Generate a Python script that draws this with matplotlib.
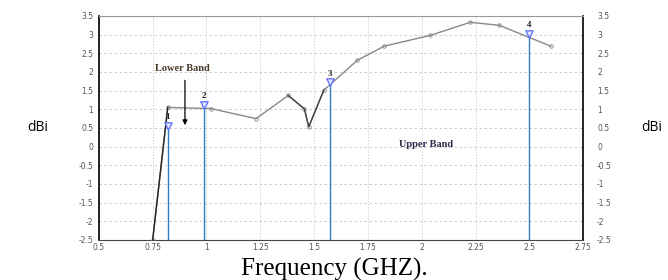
import numpy as np
import matplotlib
matplotlib.use('Agg')
import matplotlib.pyplot as plt

# gain curve (GHz, dBi)
freq = [0.75, 0.82, 1.02, 1.23, 1.38, 1.455, 1.475, 1.545, 1.70, 1.825, 2.04, 2.225, 2.36, 2.60]
gain = [-2.5, 1.05, 1.02, 0.75, 1.37, 1.01, 0.53, 1.51, 2.31, 2.69, 2.98, 3.33, 3.25, 2.69]

# markers
mk_x = [0.82, 0.99, 1.575, 2.5]
mk_y = [0.55, 1.12, 1.72, 3.03]
mk_lab = ['1', '2', '3', '4']

xticks = [0.5, 0.75, 1, 1.25, 1.5, 1.75, 2, 2.25, 2.5, 2.75]
xticklabels = ['0.5', '0.75', '1', '1.25', '1.5', '1.75', '2', '2.25', '2.5', '2.75']
yticks = [-2.5, -2, -1.5, -1, -0.5, 0, 0.5, 1, 1.5, 2, 2.5, 3, 3.5]
yticklabels = ['-2.5', '-2', '-1.5', '-1', '-0.5', '0', '0.5', '1', '1.5', '2', '2.5', '3', '3.5']

fig = plt.figure(figsize=(6.68, 2.8), dpi=100)
ax = fig.add_axes([0.148, 0.143, 0.725, 0.8])

ax.set_xlim(0.5, 2.75)
ax.set_ylim(-2.5, 3.5)
ax.set_xticks(xticks)
ax.set_xticklabels(xticklabels)
ax.set_yticks(yticks)
ax.set_yticklabels(yticklabels)
ax.tick_params(length=0, labelsize=5.5, colors='#555555', pad=4)
ax.tick_params(axis='x', pad=2)
ax.xaxis.grid(True, color='#c4c4c4', linestyle=(0, (1.5, 2)), lw=0.6)
ax.yaxis.grid(True, color='#c4c4c4', linestyle=(0, (3, 3)), lw=0.6)

for s in ['left', 'right']:
    ax.spines[s].set_color('black')
    ax.spines[s].set_linewidth(1.2)
ax.spines['top'].set_color('#999999')
ax.spines['bottom'].set_color('#444444')

ax2 = ax.twinx()
ax2.set_ylim(-2.5, 3.5)
ax2.set_yticks(yticks)
ax2.set_yticklabels(yticklabels)
ax2.tick_params(length=0, labelsize=5.5, colors='#555555', pad=10)
for s in ax2.spines.values():
    s.set_visible(False)

# blue marker lines
for x, y in zip(mk_x, mk_y):
    ax.plot([x, x], [-2.5, y], color='#2b7fcb', lw=1.0, zorder=2)

ax.plot(freq, gain, color='#888888', lw=1.0, marker='o', ms=2.5,
        mfc='none', mec='#888888', mew=0.6, zorder=3)
ax.plot(freq[:2], gain[:2], color='#222222', lw=1.0, zorder=3)
ax.plot(freq[4:8], gain[4:8], color='#444444', lw=1.0, zorder=3)

ax.scatter(mk_x, mk_y, marker='v', s=28, facecolor='#dde4ff', edgecolor='#5a6cff',
           lw=0.9, zorder=4)
for x, y, t in zip(mk_x, mk_y, mk_lab):
    ax.text(x, y + 0.13, t, ha='center', va='bottom', fontsize=6.5,
            fontweight='bold', family='Liberation Serif', color='#222222', zorder=5)

ax.text(0.89, 2.1, 'Lower Band', ha='center', va='center', fontsize=7.5,
        fontweight='bold', family='Liberation Serif', color='#4a3a2a')
ax.annotate('', xy=(0.9, 0.5), xytext=(0.9, 1.85),
            arrowprops=dict(arrowstyle='-|>', color='black', lw=0.9, mutation_scale=7))
ax.text(2.02, 0.05, 'Upper Band', ha='center', va='center', fontsize=7.5,
        fontweight='bold', family='Liberation Serif', color='#2a2a4a')

fig.text(0.057, 0.543, 'dBi', ha='center', va='center', fontsize=10, family='Open Sans')
fig.text(0.976, 0.543, 'dBi', ha='center', va='center', fontsize=10, family='Open Sans')
fig.text(0.5, 0.015, 'Frequency (GHZ).', ha='center', va='baseline', fontsize=18,
         family='Liberation Serif')

plt.savefig('out.png', dpi=100)
